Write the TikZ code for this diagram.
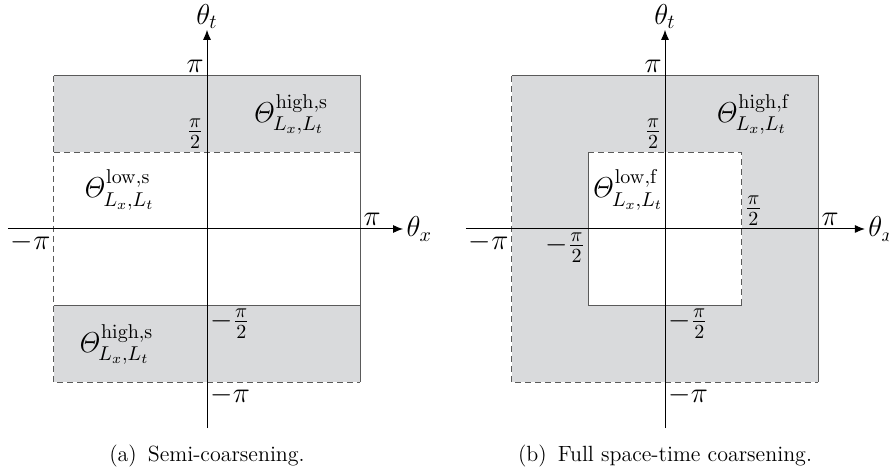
\documentclass[tikz,border=0pt]{standalone}
\usepackage{amsmath}
\usepackage{tikz}
\usetikzlibrary{arrows.meta}
\definecolor{regiongray}{HTML}{D9DADC}
\definecolor{edgegray}{HTML}{5A5A5A}
\tikzset{
  axis/.style={-{Latex[length=5pt,width=4pt]}, line width=0.5pt, black},
  solidedge/.style={line width=0.6pt, edgegray},
  openedge/.style={line width=0.6pt, edgegray, dashed, dash pattern=on 3pt off 2pt},
  lbl/.style={font=\Large, inner sep=1.5pt},
  subcap/.style={font=\fontsize{11}{13}\selectfont},
}
\newcommand{\Th}[1]{$\mathit{\Theta}^{\mathrm{#1}}_{L_x,L_t}$}

\begin{document}
\begin{tikzpicture}[x=0.5pt, y=-0.5pt]
  \useasboundingbox (0,0) rectangle (889,474);

  % (a) semi-coarsening
  \begin{scope}[shift={(207,229)}, x=38.3pt, y=38.3pt]
    \fill[regiongray] (-2,1) rectangle (2,2);
    \fill[regiongray] (-2,-2) rectangle (2,-1);
    \coordinate (a-tl) at (-2,2);   \coordinate (a-tr) at (2,2);
    \coordinate (a-bl) at (-2,-2);  \coordinate (a-br) at (2,-2);
    \coordinate (a-ml) at (-2,1);   \coordinate (a-mr) at (2,1);
    \coordinate (a-nl) at (-2,-1);  \coordinate (a-nr) at (2,-1);
    \draw[solidedge] (a-tl) -- (a-tr) -- (a-br);
    \draw[solidedge] (a-nl) -- (a-nr);
    \draw[openedge] (a-tl) -- (a-bl) -- (a-br);
    \draw[openedge] (a-ml) -- (a-mr);
    \coordinate (a-xs) at (-2.6,0);  \coordinate (a-xe) at (2.56,0);
    \coordinate (a-ys) at (0,-2.6);  \coordinate (a-ye) at (0,2.6);
    \draw[axis] (a-xs) -- (a-xe) node[lbl, right] (a-thx) {$\theta_x$};
    \draw[axis] (a-ys) -- (a-ye) node[lbl, above, inner sep=0.5pt] (a-tht) {$\theta_t$};
    \node[lbl, anchor=south east] (a-pt) at (0,2) {$\pi$};
    \node[lbl, anchor=south east] (a-ht) at (0,1) {$\frac{\pi}{2}$};
    \node[lbl, anchor=south west] (a-pr) at (2,0) {$\pi$};
    \node[lbl, anchor=north east] (a-pl) at (-2,0) {$-\pi$};
    \node[lbl, anchor=north west] (a-hb) at (0,-1) {$-\frac{\pi}{2}$};
    \node[lbl, anchor=north west] (a-pb) at (0,-2) {$-\pi$};
    \node[lbl] (a-high1) at (1.08,1.49) {\Th{high,s}};
    \node[lbl] (a-low) at (-1.16,0.51) {\Th{low,s}};
    \node[lbl] (a-high2) at (-1.2,-1.51) {\Th{high,s}};
    \node[subcap] (a-cap) at (0,-2.96) {(a)\enspace Semi-coarsening.};
  \end{scope}

  % (b) full space-time coarsening
  \begin{scope}[shift={(665,229)}, x=38.3pt, y=38.3pt]
    \fill[regiongray] (-2,-2) rectangle (2,2);
    \fill[white] (-1,-1) rectangle (1,1);
    \coordinate (b-tl) at (-2,2);   \coordinate (b-tr) at (2,2);
    \coordinate (b-bl) at (-2,-2);  \coordinate (b-br) at (2,-2);
    \coordinate (b-itl) at (-1,1);  \coordinate (b-itr) at (1,1);
    \coordinate (b-ibl) at (-1,-1); \coordinate (b-ibr) at (1,-1);
    \draw[solidedge] (b-tl) -- (b-tr) -- (b-br);
    \draw[openedge] (b-tl) -- (b-bl) -- (b-br);
    \draw[solidedge] (b-itl) -- (b-ibl) -- (b-ibr);
    \draw[openedge] (b-itl) -- (b-itr) -- (b-ibr);
    \coordinate (b-xs) at (-2.6,0);  \coordinate (b-xe) at (2.61,0);
    \coordinate (b-ys) at (0,-2.6);  \coordinate (b-ye) at (0,2.6);
    \draw[axis] (b-xs) -- (b-xe) node[lbl, right] (b-thx) {$\theta_x$};
    \draw[axis] (b-ys) -- (b-ye) node[lbl, above, inner sep=0.5pt] (b-tht) {$\theta_t$};
    \node[lbl, anchor=south east] (b-pt) at (0,2) {$\pi$};
    \node[lbl, anchor=south east] (b-ht) at (0,1) {$\frac{\pi}{2}$};
    \node[lbl, anchor=south west] (b-hr) at (1,0) {$\frac{\pi}{2}$};
    \node[lbl, anchor=south west] (b-pr) at (2,0) {$\pi$};
    \node[lbl, anchor=north east] (b-pl) at (-2,0) {$-\pi$};
    \node[lbl, anchor=north east] (b-hl) at (-1,0) {$-\frac{\pi}{2}$};
    \node[lbl, anchor=north west] (b-hb) at (0,-1) {$-\frac{\pi}{2}$};
    \node[lbl, anchor=north west] (b-pb) at (0,-2) {$-\pi$};
    \node[lbl] (b-high) at (1.14,1.49) {\Th{high,f}};
    \node[lbl] (b-low) at (-0.5,0.51) {\Th{low,f}};
    \node[subcap] (b-cap) at (0,-2.96) {(b)\enspace Full space-time coarsening.};
  \end{scope}
\end{tikzpicture}
\end{document}
